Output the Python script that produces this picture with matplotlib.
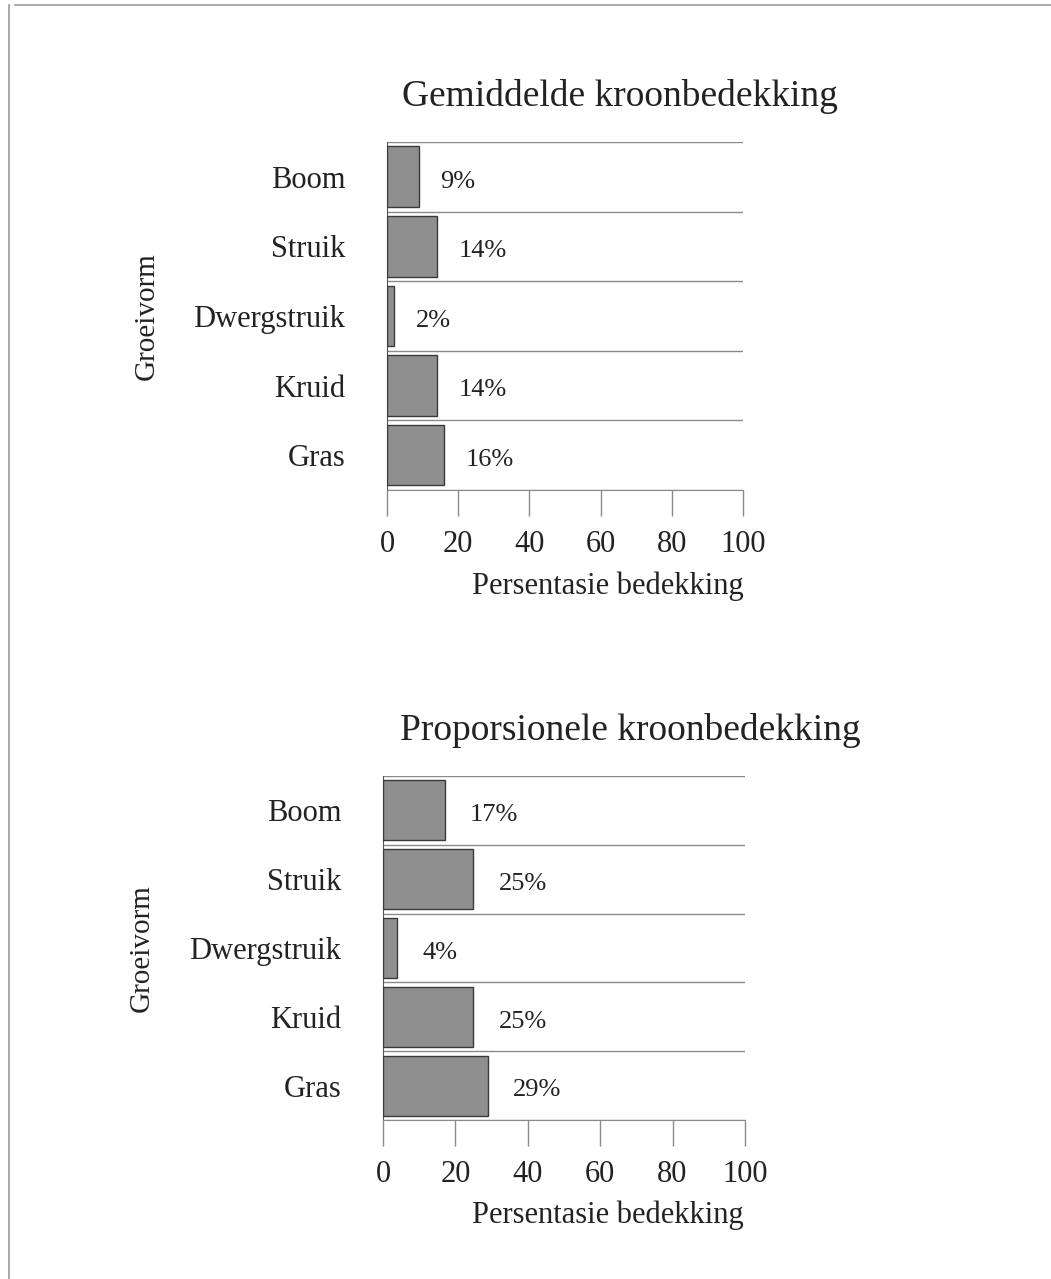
import matplotlib
matplotlib.use("Agg")
import matplotlib.pyplot as plt
from matplotlib.lines import Line2D

# data
categories = ["Boom", "Struik", "Dwergstruik", "Kruid", "Gras"]
gemiddeld = [9, 14, 2, 14, 16]
proporsioneel = [17, 25, 4, 25, 29]
xticks = [0, 20, 40, 60, 80, 100]

plt.rcParams['font.family'] = ['Liberation Serif', 'DejaVu Serif']

fig = plt.figure(figsize=(10.51, 12.79), dpi=100)
fig.patch.set_facecolor('white')

# page border of the scan
fig.add_artist(Line2D([0.014, 1.0], [0.996, 0.996], color='#9a9a9a', lw=1.2))
fig.add_artist(Line2D([0.0085, 0.0085], [0.0, 0.996], color='#9a9a9a', lw=1.2))


def draw(rect, values, title, title_xy, offset, ylab_x):
    ax = fig.add_axes(rect)
    y = list(range(len(categories)))
    ax.barh(y, values, height=0.87, color='#8f8f8f', edgecolor='#3a3a3a', linewidth=1.0, zorder=3)
    for yi, v in zip(y, values):
        ax.text(v + offset, yi + 0.07, f"{v}%", fontsize=19, va='center', ha='left', color='#222222')
    ax.set_xlim(0, 100)
    ax.set_ylim(len(categories) - 0.5, -0.5)
    ax.set_yticks(y)
    ax.set_yticklabels(categories, fontsize=22, color='#222222')
    ax.set_xticks(xticks)
    ax.set_xticklabels([str(t) for t in xticks], fontsize=22, color='#222222')
    ax.tick_params(axis='y', length=0, pad=30)
    ax.tick_params(axis='x', length=19, width=1.0, color='#8a8a8a', pad=10, direction='out')
    for b in range(len(categories) + 1):
        ax.axhline(b - 0.5, color='#8a8a8a', lw=1.0, zorder=1)
    for s in ['top', 'right']:
        ax.spines[s].set_visible(False)
    ax.spines['bottom'].set_color('#8a8a8a')
    ax.spines['left'].set_color('#555555')
    ax.set_xlabel("Persentasie bedekking", fontsize=22, color='#222222')
    ax.xaxis.set_label_coords(0.62, -0.235)
    ax.set_ylabel("Groeivorm", fontsize=21, color='#222222')
    ax.yaxis.set_label_coords(ylab_x, 0.5)
    fig.text(title_xy[0], title_xy[1], title, fontsize=27, ha='center', va='center', color='#222222')
    return ax


draw([0.3682, 0.6169, 0.3387, 0.2721], gemiddeld, "Gemiddelde kroonbedekking",
     (0.590, 1 - 97 / 1279), 6, -0.638)
draw([0.3644, 0.1243, 0.3444, 0.2690], proporsioneel, "Proporsionele kroonbedekking",
     (0.600, 1 - 731 / 1279), 7, -0.63)

plt.savefig("out.png", dpi=100, facecolor='white')
